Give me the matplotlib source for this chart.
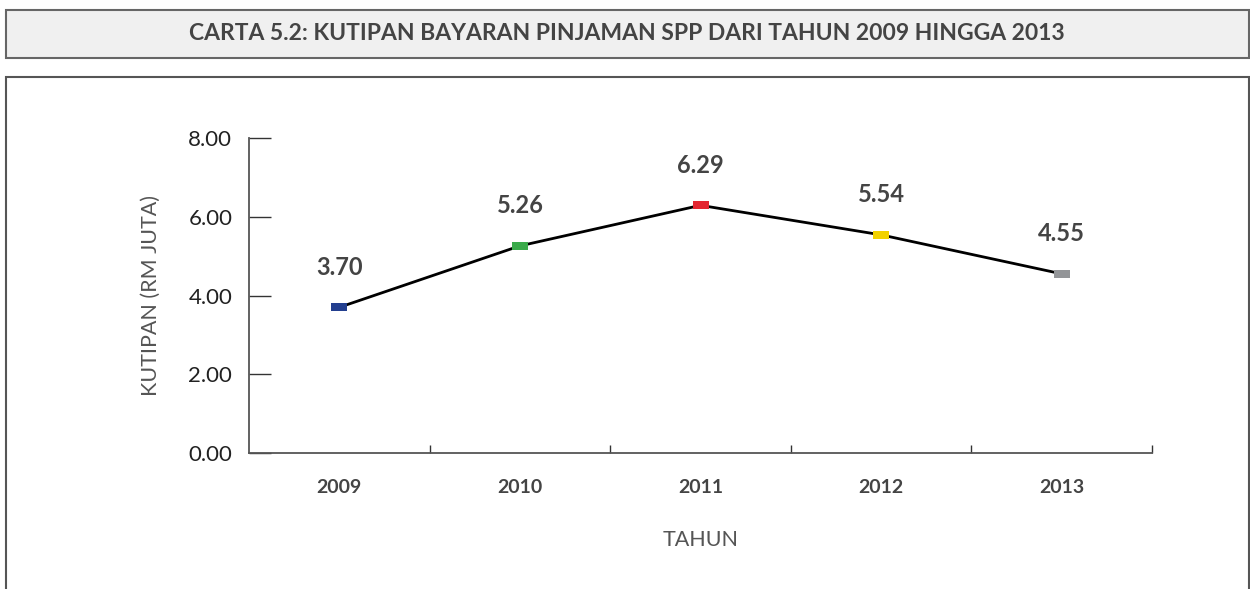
import matplotlib.pyplot as plt
from matplotlib.patches import Rectangle

years = ["2009", "2010", "2011", "2012", "2013"]
kutipan = [3.70, 5.26, 6.29, 5.54, 4.55]
marker_colors = ["#233f8f", "#3aaa4a", "#e32631", "#f2d200", "#939598"]
yticks = [0, 2, 4, 6, 8]

plt.rcParams['font.family'] = ['Lato', 'DejaVu Sans']

W, H = 1250, 589
fig = plt.figure(figsize=(W / 100, H / 100), dpi=100)
fig.patch.set_facecolor('white')

# title box and chart frame (figure pixel coords -> fractions)
def px_rect(x0, y0, x1, y1, **kw):
    return Rectangle((x0 / W, 1 - y1 / H), (x1 - x0) / W, (y1 - y0) / H,
                     transform=fig.transFigure, zorder=-1, **kw)

fig.patches.append(px_rect(6, 10, 1249, 58, facecolor='#f0f0f0', edgecolor='#666666', lw=1.5))
fig.patches.append(px_rect(6, 77, 1249, 600, facecolor='white', edgecolor='#555555', lw=1.5))
fig.text(627 / W, 1 - 34 / H, "CARTA 5.2: KUTIPAN BAYARAN PINJAMAN SPP DARI TAHUN 2009 HINGGA 2013",
         ha='center', va='center', fontsize=16.5, fontweight='bold', color='#444444')

ax = fig.add_axes([249 / W, 1 - 453 / H, (1152 - 249) / W, (453 - 138) / H])
ax.set_facecolor('none')
ax.set_zorder(2)

x = range(len(years))
ax.plot(x, kutipan, color='black', lw=2, zorder=2)
rect_marker = [(-1, -0.55), (1, -0.55), (1, 0.55), (-1, 0.55)]
for i, (v, c) in enumerate(zip(kutipan, marker_colors)):
    ax.plot(i, v, marker=rect_marker, markersize=11.5, color=c, markeredgewidth=0, zorder=3)
    ax.annotate(f"{v:.2f}", (i, v), xytext=(0, 29), textcoords='offset points',
                ha='center', va='center', fontsize=17, fontweight='bold', color='#444444')

ax.set_xlim(-0.5, len(years) - 0.5)
ax.set_ylim(0, 8)
ax.set_yticks(yticks)
ax.set_yticklabels([f"{t:.2f}" for t in yticks], fontsize=16, color='#222222')
ax.tick_params(axis='y', direction='in', length=16, width=1, color='#333333', pad=12)

ax.set_xticks([i + 0.5 for i in range(len(years))])
ax.set_xticklabels([])
ax.tick_params(axis='x', direction='in', length=6, width=1, color='#333333')
ax.set_xticks(list(x), minor=True)
ax.set_xticklabels(years, minor=True, fontsize=14, fontweight='bold', color='#444444')
ax.tick_params(axis='x', which='minor', length=0, pad=19)

for s in ['top', 'right']:
    ax.spines[s].set_visible(False)
for s in ['left', 'bottom']:
    ax.spines[s].set_color('#555555')
    ax.spines[s].set_linewidth(1.3)

ax.set_xlabel("TAHUN", fontsize=15.5, color='#555555', labelpad=24)
ax.set_ylabel("KUTIPAN (RM JUTA)", fontsize=15.5, color='#555555', labelpad=20)

fig.savefig("out.png", dpi=100)
